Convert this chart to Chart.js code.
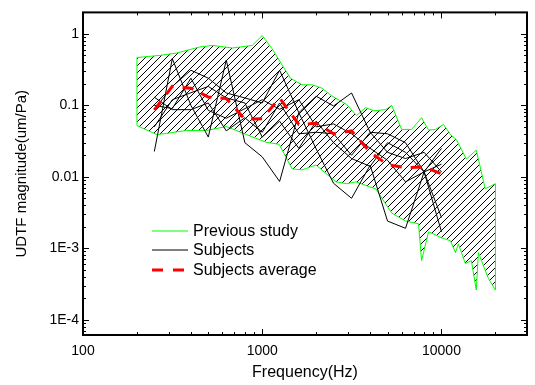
<!DOCTYPE html>
<html>
<head>
<meta charset="utf-8">
<script src="https://cdn.jsdelivr.net/npm/chart.js@4.4.0/dist/chart.umd.min.js"></script>
<style>
  html, body { margin: 0; padding: 0; background: #fff; }
</style>
</head>
<body>
<canvas id="udtf" width="535" height="385"></canvas>
<script>
const FONT = "'Liberation Sans', Arial, sans-serif"

// previous study band (upper / lower limits)
const upperFreq = [200, 268, 333, 447, 528, 681, 880, 1000, 1135, 1292, 1437, 1665, 1895, 2154, 2448, 2678, 2955, 3360, 3770, 4188, 4884, 5275, 5995, 6813, 7743, 8472, 9262, 10262, 11220, 12115, 13770, 15640, 17540, 20000]
const upperVal = [0.467, 0.50, 0.54, 0.655, 0.69, 0.635, 0.69, 0.95, 0.62, 0.366, 0.24, 0.194, 0.194, 0.174, 0.135, 0.119, 0.103, 0.072, 0.093, 0.084, 0.087, 0.10, 0.046, 0.046, 0.067, 0.045, 0.046, 0.054, 0.039, 0.033, 0.0177, 0.0236, 0.0068, 0.008]
const lowerFreq = [200, 258, 293, 378, 489, 631, 815, 1053, 1243, 1468, 1668, 1995, 2577, 2965, 3328, 3929, 4298, 5275, 6310, 7447, 7743, 8472, 10000, 11220, 11970, 12420, 13590, 14680, 15640, 16070, 18240, 20000]
const lowerVal = [0.052, 0.039, 0.0405, 0.0445, 0.0445, 0.0505, 0.039, 0.0304, 0.0285, 0.0129, 0.0125, 0.0146, 0.0085, 0.008, 0.0085, 0.0073, 0.0068, 0.0031, 0.0024, 0.0022, 0.00067, 0.0017, 0.0014, 0.00127, 0.00087, 0.00115, 0.00061, 0.00067, 0.00026, 0.00087, 0.00038, 0.00026]

// subjects, 1/3 octave bands
const freqs = [250, 315, 400, 500, 630, 800, 1000, 1250, 1600, 2000, 2500, 3150, 4000, 5000, 6300, 8000, 10000]
const subj1 = [0.0226, 0.45, 0.10, 0.036, 0.43, 0.030, 0.019, 0.0086, 0.079, 0.134, 0.098, 0.149, 0.042, 0.040, 0.030, 0.0117, 0.0027]
const subj2 = [0.087, 0.184, 0.31, 0.24, 0.149, 0.127, 0.108, 0.31, 0.079, 0.0245, 0.0081, 0.005, 0.0145, 0.0024, 0.0019, 0.0117, 0.025]
const subj3 = [0.13, 0.087, 0.087, 0.108, 0.044, 0.067, 0.042, 0.108, 0.04, 0.042, 0.04, 0.02, 0.042, 0.022, 0.018, 0.022, 0.0117]
const subj4 = [0.05, 0.12, 0.15, 0.184, 0.127, 0.108, 0.036, 0.06, 0.025, 0.06, 0.03, 0.018, 0.014, 0.03, 0.022, 0.0117, 0.0017]
const subj5 = [0.10, 0.09, 0.24, 0.085, 0.066, 0.09, 0.12, 0.088, 0.12, 0.05, 0.055, 0.04, 0.025, 0.017, 0.0085, 0.0117, 0.015]
const average = [0.086, 0.184, 0.174, 0.131, 0.125, 0.064, 0.065, 0.127, 0.054, 0.056, 0.040, 0.044, 0.022, 0.0148, 0.0134, 0.0137, 0.011]

const xTickValues = [100, 1000, 10000]
const xTickLabels = ['100', '1000', '10000']
const yTickValues = [1e-4, 1e-3, 0.01, 0.1, 1]
const yTickLabels = ['1E-4', '1E-3', '0.01', '0.1', '1']
const legendLabels = ['Previous study', 'Subjects', 'Subjects average']

const canvas = document.getElementById('udtf')
const ctx = canvas.getContext('2d')

function pts(xs, ys) {
  return xs.map((x, i) => ({x: x, y: ys[i]}))
}

function logTicks(min, max) {
  const out = []
  for (let e = Math.floor(Math.log10(min)); e <= Math.ceil(Math.log10(max)); e++) {
    for (let m = 1; m < 10; m++) {
      const v = Number((m * Math.pow(10, e)).toPrecision(6))
      if (v >= min * 0.9999 && v <= max * 1.0001) out.push(v)
    }
  }
  return out
}

function isDecade(v) {
  const l = Math.log10(v)
  return Math.abs(l - Math.round(l)) < 1e-6
}

function labelFor(v, vals, labels) {
  const i = vals.findIndex(t => Math.abs(Math.log10(t) - Math.log10(v)) < 1e-6)
  return i < 0 ? '' : labels[i]
}

// diagonal hatch for the previous study band
function hatch() {
  const n = 7
  const c = document.createElement('canvas')
  c.width = n
  c.height = n
  const g = c.getContext('2d')
  g.strokeStyle = '#000'
  g.lineWidth = 1
  g.beginPath()
  g.moveTo(0, n); g.lineTo(n, 0)
  g.moveTo(-1, 1); g.lineTo(1, -1)
  g.moveTo(n - 1, n + 1); g.lineTo(n + 1, n - 1)
  g.stroke()
  return ctx.createPattern(c, 'repeat')
}

const subjStyle = {borderColor: '#000', borderWidth: 1, pointRadius: 0, fill: false}

const frame = {
  id: 'frame',
  afterDraw(chart) {
    const {ctx, chartArea: a, scales: {x, y}} = chart
    ctx.save()
    ctx.strokeStyle = '#000'
    ctx.lineWidth = 1
    ctx.beginPath()
    x.ticks.forEach(t => {
      const px = Math.round(x.getPixelForValue(t.value)) + 0.5
      const len = isDecade(t.value) ? 6 : 3
      ctx.moveTo(px, a.bottom); ctx.lineTo(px, a.bottom - len)
      ctx.moveTo(px, a.top); ctx.lineTo(px, a.top + len)
    })
    y.ticks.forEach(t => {
      const py = Math.round(y.getPixelForValue(t.value)) + 0.5
      const len = isDecade(t.value) ? 6 : 3
      ctx.moveTo(a.left, py); ctx.lineTo(a.left + len, py)
      ctx.moveTo(a.right, py); ctx.lineTo(a.right - len, py)
    })
    ctx.stroke()
    ctx.lineWidth = 2
    ctx.strokeRect(a.left, a.top, a.right - a.left, a.bottom - a.top)

    // legend
    const rows = [231, 250, 270]
    const styles = [
      {c: '#00ff00', w: 1, d: []},
      {c: '#000', w: 1, d: []},
      {c: '#ff0000', w: 3, d: [11, 10]}
    ]
    ctx.font = '16px ' + FONT
    ctx.textBaseline = 'middle'
    ctx.fillStyle = '#000'
    legendLabels.forEach((lab, i) => {
      const s = styles[i]
      ctx.beginPath()
      ctx.strokeStyle = s.c
      ctx.lineWidth = s.w
      ctx.setLineDash(s.d)
      ctx.moveTo(152, rows[i]); ctx.lineTo(188, rows[i])
      ctx.stroke()
      ctx.setLineDash([])
      ctx.fillText(lab, 193, rows[i] + 1)
    })
    ctx.restore()
  }
}

new Chart(canvas, {
  type: 'line',
  data: {
    datasets: [
      {label: 'Subjects average', data: pts(freqs, average), borderColor: '#ff0000', borderWidth: 3, borderDash: [11, 9], pointRadius: 0, fill: false},
      Object.assign({label: 'Subjects', data: pts(freqs, subj1)}, subjStyle),
      Object.assign({label: 'Subjects', data: pts(freqs, subj2)}, subjStyle),
      Object.assign({label: 'Subjects', data: pts(freqs, subj3)}, subjStyle),
      Object.assign({label: 'Subjects', data: pts(freqs, subj4)}, subjStyle),
      Object.assign({label: 'Subjects', data: pts(freqs, subj5)}, subjStyle),
      {label: 'Previous study', data: pts(upperFreq, upperVal), borderColor: '#00ff00', borderWidth: 1, pointRadius: 0, fill: '+1', backgroundColor: hatch()},
      {label: 'Previous study low', data: pts(lowerFreq, lowerVal), borderColor: '#00ff00', borderWidth: 1, pointRadius: 0, fill: false},
      {label: 'edge', data: [{x: upperFreq[0], y: lowerVal[0]}, {x: upperFreq[0], y: upperVal[0]}], borderColor: '#00ff00', borderWidth: 1, pointRadius: 0, fill: false},
      {label: 'edge', data: [{x: upperFreq[upperFreq.length - 1], y: lowerVal[lowerVal.length - 1]}, {x: upperFreq[upperFreq.length - 1], y: upperVal[upperVal.length - 1]}], borderColor: '#00ff00', borderWidth: 1, pointRadius: 0, fill: false}
    ]
  },
  options: {
    responsive: false,
    animation: false,
    layout: {padding: {top: 8, right: 6, left: 0, bottom: 0}},
    plugins: {
      legend: {display: false},
      tooltip: {enabled: false},
      filler: {drawTime: 'beforeDatasetsDraw'}
    },
    elements: {line: {tension: 0}},
    scales: {
      x: {
        type: 'logarithmic',
        min: 100,
        max: 30000,
        afterBuildTicks: s => { s.ticks = logTicks(100, 30000).map(v => ({value: v})) },
        afterFit: s => { s.height = 50 },
        grid: {display: false, drawTicks: false},
        border: {display: false},
        ticks: {
          autoSkip: false,
          maxRotation: 0,
          padding: 8,
          color: '#000',
          font: {size: 14, family: FONT},
          callback: v => labelFor(v, xTickValues, xTickLabels)
        },
        title: {display: true, text: 'Frequency(Hz)', color: '#000', font: {size: 16, family: FONT}, padding: {top: 0, bottom: 3}}
      },
      y: {
        type: 'logarithmic',
        min: 6.1e-5,
        max: 2,
        afterBuildTicks: s => { s.ticks = logTicks(6.1e-5, 2).map(v => ({value: v})) },
        afterFit: s => { s.width = 83 },
        grid: {display: false, drawTicks: false},
        border: {display: false},
        ticks: {
          autoSkip: false,
          padding: 4,
          color: '#000',
          font: {size: 14, family: FONT},
          callback: v => labelFor(v, yTickValues, yTickLabels)
        },
        title: {display: true, text: 'UDTF magnitude(um/Pa)', color: '#000', font: {size: 15, family: FONT}, padding: {top: 13, bottom: 0}}
      }
    }
  },
  plugins: [frame]
})
</script>
</body>
</html>
